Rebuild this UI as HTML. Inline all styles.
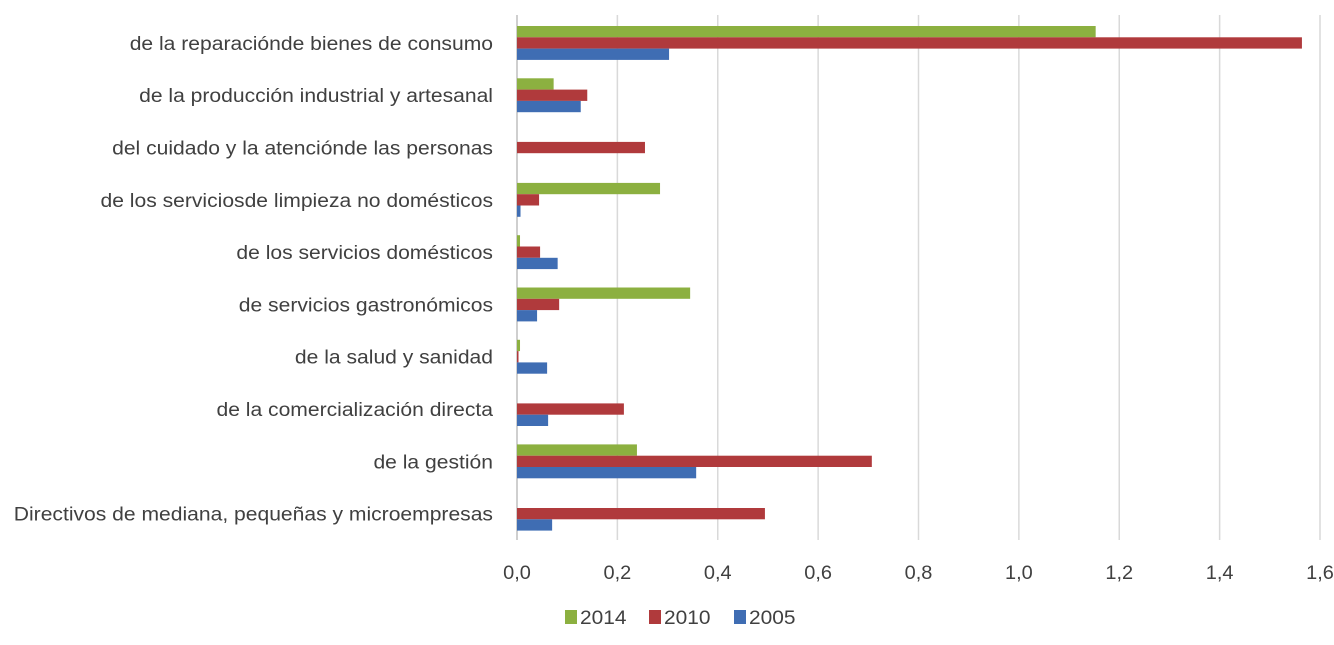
<!DOCTYPE html>
<html><head><meta charset="utf-8"><style>
body{margin:0;background:#fff;}
svg text{font-family:"Liberation Sans",sans-serif;fill:#404040;}
</style></head><body>
<svg id="chart" width="1334" height="640" xmlns="http://www.w3.org/2000/svg"></svg>
<script>
const categories=["de la reparaciónde bienes de consumo","de la producción industrial y artesanal","del cuidado y la atenciónde las personas","de los serviciosde limpieza no domésticos","de los servicios domésticos","de servicios gastronómicos","de la salud y sanidad","de la comercialización directa","de la gestión","Directivos de mediana, pequeñas y microempresas"];
const seriesNames=["2014","2010","2005"];
const values2014=[1.153,0.073,0,0.285,0.006,0.345,0.006,0,0.239,0];
const values2010=[1.564,0.140,0.255,0.044,0.046,0.084,0.003,0.213,0.707,0.494];
const values2005=[0.303,0.127,0,0.007,0.081,0.040,0.060,0.062,0.357,0.070];
const tickValues=[0,0.2,0.4,0.6,0.8,1.0,1.2,1.4,1.6];
const tickLabels=["0,0","0,2","0,4","0,6","0,8","1,0","1,2","1,4","1,6"];
const colors=["#8cb040","#b03a3c","#3f6db3"];
const svg=document.getElementById('chart');
const NS="http://www.w3.org/2000/svg";
const x0=517,x1=1320,xmax=1.6;
const xs=v=>x0+(x1-x0)*v/xmax;
const top0=26,rowH=52.3,barH=11.3;
function mk(t,a){const e=document.createElementNS(NS,t);for(const k in a)e.setAttribute(k,a[k]);svg.appendChild(e);return e;}
tickValues.forEach((v,i)=>{
  const g=mk('line',{x1:xs(v),x2:xs(v),y1:15,y2:540,stroke:i==0?'#bfbfbf':'#d9d9d9','stroke-width':1.5});
  
  
  const t=mk('text',{x:xs(v),y:579,'text-anchor':'middle','font-size':19,transform:`translate(${xs(v)},0) scale(1.05,1) translate(${-xs(v)},0)`});
  t.textContent=tickLabels[i];
  
  
});
const all=[values2014,values2010,values2005];
categories.forEach((c,i)=>{
  const gy=top0+rowH*i;
  const t=mk('text',{x:493,y:gy+barH*1.5+7,'text-anchor':'end','font-size':19,transform:'translate(493,0) scale(1.11,1) translate(-493,0)'});
  t.textContent=c;
  
  
  all.forEach((arr,s)=>{
    const v=arr[i]; if(v<=0)return;
    const r=mk('rect',{x:x0,y:gy+barH*s,width:Math.max(xs(v)-x0,1),height:barH,fill:colors[s]});
    
    
  });
});
const lx=[565,649,734];
seriesNames.forEach((n,s)=>{
  const r=mk('rect',{x:lx[s],y:610,width:12,height:14,fill:colors[s]});
  
  
  const t=mk('text',{x:lx[s]+15,y:624,'font-size':19,transform:`translate(${lx[s]+15},0) scale(1.1,1) translate(${-(lx[s]+15)},0)`});
  t.textContent=n;
  
  
});
</script>
</body></html>
